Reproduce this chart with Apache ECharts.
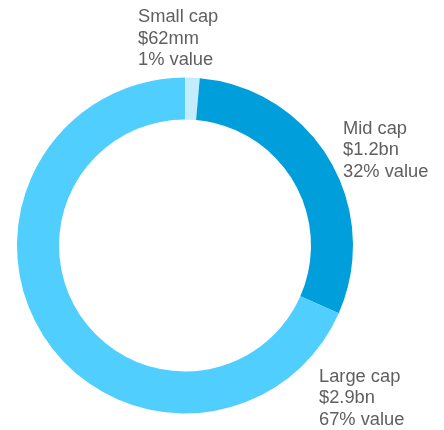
<!DOCTYPE html>
<html>
<head>
<meta charset="utf-8">
<script src="https://cdn.jsdelivr.net/npm/echarts@6/dist/echarts.min.js"></script>
<style>html,body{margin:0;padding:0;background:#fff;}#c{width:444px;height:430px;}</style>
</head>
<body>
<div id="c"></div>
<script>
const categories = ['Small cap', 'Mid cap', 'Large cap'];
const shares = [1.4, 30.2, 68.4];
const amountLabels = ['$62mm', '$1.2bn', '$2.9bn'];
const pctLabels = ['1% value', '32% value', '67% value'];
const colors = ['#c3ecfd', '#009fdb', '#50cfff'];

const labelPos = [
  { x: 138, y: 38.5 },
  { x: 343, y: 150 },
  { x: 319, y: 398 }
];

const chart = echarts.init(document.getElementById('c'));
chart.setOption({
  animation: false,
  series: [{
    type: 'pie',
    center: [185, 245.5],
    radius: [126, 168],
    startAngle: 90,
    clockwise: true,
    silent: true,
    avoidLabelOverlap: false,
    data: categories.map((c, i) => ({
      name: c,
      value: shares[i],
      itemStyle: { color: colors[i] }
    })),
    itemStyle: { borderWidth: 0 },
    label: {
      show: true,
      position: 'outside',
      color: '#5f5f5f',
      fontFamily: 'Liberation Sans, Arial, sans-serif',
      fontSize: 18.3,
      lineHeight: 21.5,
      overflow: 'none',
      formatter: p => [categories[p.dataIndex], amountLabels[p.dataIndex], pctLabels[p.dataIndex]].join('\n')
    },
    labelLine: { show: false },
    labelLayout: p => ({
      x: labelPos[p.dataIndex].x,
      y: labelPos[p.dataIndex].y,
      align: 'left',
      verticalAlign: 'middle',
      hideOverlap: false,
      moveOverlap: null
    })
  }]
});
</script>
</body>
</html>
